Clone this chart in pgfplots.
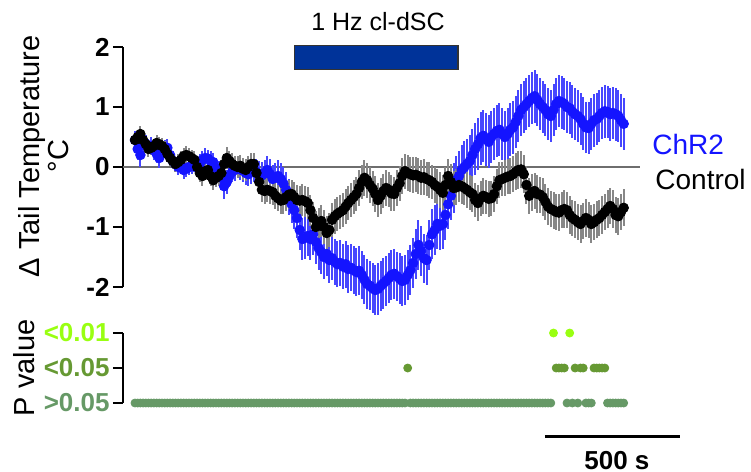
\documentclass[border=0pt]{standalone}
\usepackage{pgfplots}
\pgfplotsset{compat=1.18}
\usepackage{pgfplotstable}
\usepackage{fontspec}
\setmainfont{Liberation Sans}

\definecolor{chrdot}{HTML}{1414FF}
\definecolor{chrbar}{HTML}{4646FF}
\definecolor{ctlbar}{HTML}{878787}
\definecolor{stim}{HTML}{003399}
\definecolor{zline}{HTML}{6E6E6E}
\definecolor{pss}{HTML}{99FF11}
\definecolor{ps}{HTML}{669933}
\definecolor{pn}{HTML}{669966}

% ChR2: time (s), delta T, s.e.m.
\pgfplotstableread[row sep=\\]{
t y e\\
0 0.45 .15\\10 0.30 .18\\20 0.20 .20\\30 0.42 .15\\40 0.38 .15\\50 0.33 .14\\60 0.35 .15\\70 0.28 .16\\80 0.22 .15\\90 0.15 .16\\
100 0.24 .15\\110 0.30 .15\\120 0.32 .14\\130 0.20 .13\\140 0.10 .13\\150 0.05 .14\\160 0.00 .13\\170 0.02 .14\\180 -0.05 .15\\190 -0.03 .14\\
200 0.00 .14\\210 0.02 .13\\220 0.05 .14\\230 0.00 .15\\240 0.05 .16\\250 0.12 .15\\260 0.15 .16\\270 0.14 .15\\280 0.10 .16\\290 0.08 .16\\
300 -0.02 .17\\310 -0.08 .18\\320 -0.18 .20\\330 -0.32 .22\\340 -0.25 .20\\350 -0.15 .18\\360 -0.08 .17\\370 -0.05 .18\\380 -0.02 .17\\390 -0.04 .18\\
400 -0.06 .19\\410 -0.10 .20\\420 -0.12 .19\\430 -0.08 .20\\440 -0.05 .20\\450 -0.08 .22\\460 -0.12 .22\\470 -0.14 .23\\480 -0.10 .22\\490 -0.05 .24\\
500 -0.12 .25\\510 -0.20 .24\\520 -0.18 .25\\530 -0.15 .26\\540 -0.20 .27\\550 -0.28 .28\\560 -0.38 .29\\570 -0.50 .30\\580 -0.62 .31\\590 -0.72 .32\\
600 -0.85 .33\\610 -1.05 .34\\620 -1.20 .35\\630 -1.18 .35\\640 -1.15 .34\\650 -1.20 .35\\660 -1.12 .35\\670 -1.25 .36\\680 -1.35 .36\\690 -1.42 .37\\
700 -1.50 .36\\710 -1.45 .37\\720 -1.55 .38\\730 -1.52 .37\\740 -1.58 .38\\750 -1.62 .38\\760 -1.60 .39\\770 -1.66 .38\\780 -1.62 .39\\790 -1.70 .40\\
800 -1.68 .39\\810 -1.72 .40\\820 -1.75 .40\\830 -1.73 .41\\840 -1.80 .40\\850 -1.88 .41\\860 -1.95 .42\\870 -1.98 .41\\880 -2.02 .42\\890 -2.05 .42\\
900 -2.03 .43\\910 -1.98 .42\\920 -1.94 .42\\930 -1.90 .41\\940 -1.85 .42\\950 -1.80 .41\\960 -1.78 .42\\970 -1.82 .41\\980 -1.86 .42\\990 -1.90 .41\\
1000 -1.88 .42\\1010 -1.80 .41\\1020 -1.72 .42\\1030 -1.60 .41\\1040 -1.45 .42\\1050 -1.30 .41\\1060 -1.40 .42\\1070 -1.52 .41\\1080 -1.55 .42\\1090 -1.30 .41\\
1100 -1.12 .42\\1110 -1.05 .41\\1120 -0.95 .42\\1130 -0.98 .41\\1140 -0.95 .42\\1150 -0.80 .41\\1160 -0.62 .42\\1170 -0.48 .41\\1180 -0.35 .42\\1190 -0.22 .41\\
1200 -0.15 .42\\1210 -0.05 .42\\1220 0.00 .43\\1230 0.05 .42\\1240 0.10 .43\\1250 0.20 .43\\1260 0.30 .44\\1270 0.38 .43\\1280 0.48 .44\\1290 0.52 .43\\
1300 0.46 .44\\1310 0.42 .44\\1320 0.50 .43\\1330 0.55 .44\\1340 0.60 .43\\1350 0.62 .44\\1360 0.55 .43\\1370 0.50 .44\\1380 0.55 .43\\1390 0.62 .44\\
1400 0.66 .44\\1410 0.75 .43\\1420 0.85 .44\\1430 0.95 .43\\1440 1.00 .44\\1450 1.05 .43\\1460 1.10 .44\\1470 1.15 .43\\1480 1.18 .44\\1490 1.12 .43\\
1500 1.05 .44\\1510 1.00 .43\\1520 0.95 .44\\1530 0.88 .43\\1540 0.85 .44\\1550 0.95 .43\\1560 1.05 .44\\1570 1.10 .43\\1580 1.08 .44\\1590 1.05 .43\\
1600 1.00 .44\\1610 0.98 .43\\1620 0.92 .44\\1630 0.88 .43\\1640 0.85 .44\\1650 0.80 .43\\1660 0.72 .44\\1670 0.66 .43\\1680 0.65 .44\\1690 0.72 .43\\
1700 0.78 .44\\1710 0.80 .43\\1720 0.85 .44\\1730 0.90 .43\\1740 0.93 .44\\1750 0.92 .43\\1760 0.88 .44\\1770 0.90 .43\\1780 0.88 .44\\1790 0.85 .43\\
1800 0.78 .44\\1810 0.72 .43\\
}\chr

% Control
\pgfplotstableread[row sep=\\]{
t y e\\
0 0.45 .12\\10 0.50 .12\\20 0.55 .13\\30 0.45 .12\\40 0.38 .12\\50 0.30 .13\\60 0.32 .12\\70 0.35 .12\\80 0.40 .13\\90 0.38 .12\\
100 0.35 .13\\110 0.30 .13\\120 0.22 .13\\130 0.15 .14\\140 0.10 .14\\150 0.05 .14\\160 0.08 .13\\170 0.12 .14\\180 0.18 .14\\190 0.20 .15\\
200 0.18 .14\\210 0.15 .14\\220 0.12 .15\\230 0.00 .15\\240 -0.10 .15\\250 -0.15 .16\\260 -0.07 .15\\270 -0.05 .16\\280 -0.15 .16\\290 -0.22 .16\\
300 -0.18 .16\\310 -0.15 .17\\320 -0.10 .17\\330 0.05 .17\\340 0.15 .18\\350 0.10 .17\\360 0.05 .18\\370 0.02 .17\\380 0.00 .18\\390 0.02 .18\\
400 -0.03 .18\\410 -0.05 .18\\420 0.00 .19\\430 0.05 .19\\440 0.05 .19\\450 -0.10 .20\\460 -0.25 .20\\470 -0.38 .20\\480 -0.40 .21\\490 -0.38 .21\\
500 -0.40 .21\\510 -0.42 .22\\520 -0.48 .22\\530 -0.52 .22\\540 -0.56 .23\\550 -0.55 .23\\560 -0.50 .24\\570 -0.46 .24\\580 -0.45 .24\\590 -0.50 .25\\
600 -0.55 .25\\610 -0.56 .25\\620 -0.55 .26\\630 -0.57 .26\\640 -0.60 .26\\650 -0.72 .26\\660 -0.85 .27\\670 -1.00 .27\\680 -0.95 .27\\690 -0.90 .27\\
700 -1.00 .28\\710 -1.10 .28\\720 -1.05 .28\\730 -0.88 .28\\740 -0.82 .29\\750 -0.78 .28\\760 -0.75 .29\\770 -0.72 .28\\780 -0.66 .29\\790 -0.60 .28\\
800 -0.55 .29\\810 -0.50 .28\\820 -0.45 .29\\830 -0.35 .30\\840 -0.25 .29\\850 -0.18 .30\\860 -0.22 .29\\870 -0.30 .30\\880 -0.36 .29\\890 -0.45 .30\\
900 -0.55 .29\\910 -0.48 .30\\920 -0.40 .29\\930 -0.35 .30\\940 -0.38 .29\\950 -0.44 .30\\960 -0.45 .29\\970 -0.35 .30\\980 -0.27 .29\\990 -0.15 .30\\
1000 -0.07 .29\\1010 -0.10 .30\\1020 -0.12 .29\\1030 -0.14 .30\\1040 -0.13 .29\\1050 -0.15 .30\\1060 -0.18 .29\\1070 -0.17 .30\\1080 -0.20 .29\\1090 -0.22 .30\\
1100 -0.25 .29\\1110 -0.30 .30\\1120 -0.33 .29\\1130 -0.38 .30\\1140 -0.43 .29\\1150 -0.30 .30\\1160 -0.15 .29\\1170 -0.25 .30\\1180 -0.35 .29\\1190 -0.34 .30\\
1200 -0.30 .29\\1210 -0.32 .30\\1220 -0.35 .29\\1230 -0.38 .30\\1240 -0.42 .29\\1250 -0.45 .30\\1260 -0.55 .29\\1270 -0.60 .30\\1280 -0.52 .29\\1290 -0.48 .30\\
1300 -0.50 .29\\1310 -0.53 .30\\1320 -0.52 .29\\1330 -0.45 .30\\1340 -0.32 .29\\1350 -0.22 .30\\1360 -0.20 .29\\1370 -0.18 .30\\1380 -0.16 .29\\1390 -0.15 .30\\
1400 -0.12 .30\\1410 -0.08 .31\\1420 -0.05 .32\\1430 -0.04 .31\\1440 -0.12 .32\\1450 -0.30 .31\\1460 -0.48 .30\\1470 -0.42 .31\\1480 -0.40 .30\\1490 -0.45 .31\\
1500 -0.46 .30\\1510 -0.50 .31\\1520 -0.58 .30\\1530 -0.66 .31\\1540 -0.70 .30\\1550 -0.72 .31\\1560 -0.75 .30\\1570 -0.76 .31\\1580 -0.72 .30\\1590 -0.70 .31\\
1600 -0.72 .30\\1610 -0.80 .31\\1620 -0.85 .30\\1630 -0.88 .31\\1640 -0.92 .30\\1650 -0.95 .31\\1660 -0.90 .30\\1670 -0.85 .31\\1680 -0.88 .30\\1690 -0.95 .31\\
1700 -0.92 .30\\1710 -0.88 .31\\1720 -0.85 .30\\1730 -0.80 .31\\1740 -0.75 .30\\1750 -0.70 .31\\1760 -0.65 .30\\1770 -0.70 .31\\1780 -0.80 .30\\1790 -0.82 .31\\
1800 -0.75 .30\\1810 -0.68 .31\\
}\ctl

% p value class per time bin: 0 = >0.05, 1 = <0.05, 2 = <0.01
\pgfplotstableread[row sep=\\]{
t p c\\
0 0 n\\10 0 n\\20 0 n\\30 0 n\\40 0 n\\50 0 n\\60 0 n\\70 0 n\\80 0 n\\90 0 n\\
100 0 n\\110 0 n\\120 0 n\\130 0 n\\140 0 n\\150 0 n\\160 0 n\\170 0 n\\180 0 n\\190 0 n\\
200 0 n\\210 0 n\\220 0 n\\230 0 n\\240 0 n\\250 0 n\\260 0 n\\270 0 n\\280 0 n\\290 0 n\\
300 0 n\\310 0 n\\320 0 n\\330 0 n\\340 0 n\\350 0 n\\360 0 n\\370 0 n\\380 0 n\\390 0 n\\
400 0 n\\410 0 n\\420 0 n\\430 0 n\\440 0 n\\450 0 n\\460 0 n\\470 0 n\\480 0 n\\490 0 n\\
500 0 n\\510 0 n\\520 0 n\\530 0 n\\540 0 n\\550 0 n\\560 0 n\\570 0 n\\580 0 n\\590 0 n\\
600 0 n\\610 0 n\\620 0 n\\630 0 n\\640 0 n\\650 0 n\\660 0 n\\670 0 n\\680 0 n\\690 0 n\\
700 0 n\\710 0 n\\720 0 n\\730 0 n\\740 0 n\\750 0 n\\760 0 n\\770 0 n\\780 0 n\\790 0 n\\
800 0 n\\810 0 n\\820 0 n\\830 0 n\\840 0 n\\850 0 n\\860 0 n\\870 0 n\\880 0 n\\890 0 n\\
900 0 n\\910 0 n\\920 0 n\\930 0 n\\940 0 n\\950 0 n\\960 0 n\\970 0 n\\980 0 n\\990 0 n\\
1000 0 n\\1010 1 s\\1020 0 n\\1030 0 n\\1040 0 n\\1050 0 n\\1060 0 n\\1070 0 n\\1080 0 n\\1090 0 n\\
1100 0 n\\1110 0 n\\1120 0 n\\1130 0 n\\1140 0 n\\1150 0 n\\1160 0 n\\1170 0 n\\1180 0 n\\1190 0 n\\
1200 0 n\\1210 0 n\\1220 0 n\\1230 0 n\\1240 0 n\\1250 0 n\\1260 0 n\\1270 0 n\\1280 0 n\\1290 0 n\\
1300 0 n\\1310 0 n\\1320 0 n\\1330 0 n\\1340 0 n\\1350 0 n\\1360 0 n\\1370 0 n\\1380 0 n\\1390 0 n\\
1400 0 n\\1410 0 n\\1420 0 n\\1430 0 n\\1440 0 n\\1450 0 n\\1460 0 n\\1470 0 n\\1480 0 n\\1490 0 n\\
1500 0 n\\1510 0 n\\1520 0 n\\1530 0 n\\1540 0 n\\1550 2 ss\\1560 1 s\\1570 1 s\\1580 1 s\\1590 1 s\\
1600 0 n\\1610 2 ss\\1620 0 n\\1630 1 s\\1640 0 n\\1650 1 s\\1660 1 s\\1670 0 n\\1680 0 n\\1690 0 n\\
1700 1 s\\1710 1 s\\1720 1 s\\1730 1 s\\1740 1 s\\1750 0 n\\1760 0 n\\1770 0 n\\1780 0 n\\1790 0 n\\
1800 0 n\\1810 0 n\\
}\pv

\begin{document}
\begin{tikzpicture}
\useasboundingbox (0pt,0pt) rectangle (375.5pt,-236pt);

\begin{axis}[
  at={(61.5pt,-143.5pt)}, anchor=south west,
  scale only axis, width=278.5pt, height=120pt,
  xmin=-44.4, xmax=2018.5, ymin=-2, ymax=2,
  clip=false,
  axis x line=none, axis y line=left,
  axis line style={-, line width=1.2pt},
  ytick={-2,-1,0,1,2},
  yticklabels={\textbf{-2},\textbf{-1},\textbf{0},\textbf{1},\textbf{2}},
  tick align=outside, major tick length=5pt,
  tick style={line width=1.1pt, black},
  yticklabel style={font=\fontsize{13}{15}\selectfont, inner sep=1.5pt},
]
  \draw[zline, line width=1.3pt] (axis cs:-44.4,0) -- (axis cs:1870,0);

  \addplot[only marks, mark=*, mark size=2.4pt, color=chrdot,
    error bars/.cd, y dir=both, y explicit, error mark=none,
    error bar style={line width=1pt, color=chrbar}]
    table[x=t, y=y, y error=e] {\chr};
  \addplot[only marks, mark=*, mark size=2.4pt, color=black,
    error bars/.cd, y dir=both, y explicit, error mark=none,
    error bar style={line width=1pt, color=ctlbar}]
    table[x=t, y=y, y error=e] {\ctl};

  \node[font=\fontsize{12.5}{14}\selectfont] at (axis cs:900,2.43) {1 Hz cl-dSC};
  \filldraw[fill=stim, draw=black!80, line width=0.6pt]
    (axis cs:592,1.63) rectangle (axis cs:1196,2.02);
  \node[anchor=west, text=chrdot, font=\fontsize{14}{16}\selectfont, inner sep=0pt]
    at (axis cs:1915,0.38) {ChR2};
  \node[anchor=west, font=\fontsize{14}{16}\selectfont, inner sep=0pt]
    at (axis cs:1926,-0.2) {Control};
  \node[rotate=90, align=center, font=\fontsize{14.5}{14.5}\selectfont]
    at (axis cs:-337,0.18) {Δ Tail Temperature\\°C};
\end{axis}

\begin{axis}[
  at={(61.5pt,-201.5pt)}, anchor=south west,
  scale only axis, width=278.5pt, height=35pt,
  xmin=-44.4, xmax=2018.5, ymin=0, ymax=2,
  clip=false,
  axis x line=none, axis y line=left,
  axis line style={-, line width=1.2pt},
  ytick={0,1,2},
  yticklabels={\textcolor{pn}{\textbf{>0.05}},\textcolor{ps}{\textbf{<0.05}},\textcolor{pss}{\textbf{<0.01}}},
  tick align=outside, major tick length=5pt,
  tick style={line width=1.1pt, black},
  yticklabel style={font=\fontsize{13}{15}\selectfont, inner sep=1.5pt},
]
  \addplot[scatter, only marks, scatter src=explicit symbolic,
    scatter/classes={
      n={mark=*, mark size=2pt, draw=pn, fill=pn},
      s={mark=*, mark size=2pt, draw=ps, fill=ps},
      ss={mark=*, mark size=2pt, draw=pss, fill=pss}}]
    table[x=t, y=p, meta=c] {\pv};

  \draw[line width=1.5pt] (axis cs:1518,-0.97) -- (axis cs:2018.5,-0.97);
  \node[font=\bfseries\fontsize{13}{15}\selectfont] at (axis cs:1785,-1.63) {500 s};
  \node[rotate=90, font=\fontsize{14.5}{16}\selectfont] at (axis cs:-411,1) {P value};
\end{axis}
\end{tikzpicture}
\end{document}
